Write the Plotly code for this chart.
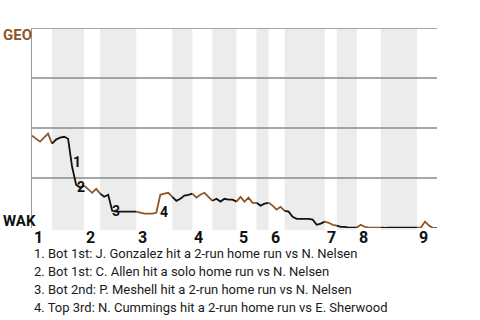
import plotly.graph_objects as go

# GEO win probability (%) after each plate appearance (event 0 = first pitch)
wp_geo = [
    46.2, 44.6, 43.2, 45.2, 47.2, 42.2,                 # top 1st
    44.2, 45.2, 45.6, 44.6, 30.6, 21.6, 20.2, 21.2,     # bot 1st
    19.2, 17.6, 19.6, 17.2,                             # top 2nd
    15.6, 16.6, 8.6, 8.2, 8.2, 8.2, 8.2, 8.2, 8.2,      # bot 2nd
    7.6, 7.2, 7.2, 7.2, 7.6, 16.6, 17.2, 17.6, 15.6,    # top 3rd
    13.6, 14.6, 16.2, 16.6, 17.2,                       # bot 3rd
    15.2, 16.6, 17.6, 15.6, 13.6,                       # top 4th
    14.6, 13.2, 14.6, 14.2, 14.2, 13.2,                 # bot 4th
    15.6, 13.2, 15.2, 12.6, 12.6,                       # top 5th
    11.2, 12.2, 12.6,                                   # bot 5th
    11.2, 9.2, 10.6, 8.6,                               # top 6th
    8.2, 5.6, 4.6, 4.6, 4.6, 4.6, 4.2, 1.6, 2.2, 3.2,   # bot 6th
    2.6, 1.6, 1.2,                                      # top 7th
    0.6, 0.6, 0.2, 0.2, 0.2,                            # bot 7th
    1.6, 0.6, 0.2, 0.2, 0.2, 0.2,                       # top 8th
    0.0, 0.2, 0.2, 0.2, 0.2, 0.2, 0.2, 0.2, 0.2,        # bot 8th
    0.2, 3.2, 1.2, 0.0, 0.0,                            # top 9th
]

# plate appearances in each half inning (top 1st, bot 1st, ...)
half_pa = [5, 8, 4, 9, 9, 5, 5, 6, 5, 3, 4, 10, 3, 5, 6, 9, 5]
inning_labels = ["1", "2", "3", "4", "5", "6", "7", "8", "9"]
grid_levels = [25, 50, 75, 100]

# key plays: label, x position, y position
play_labels = ["1", "2", "3", "4"]
play_x = [11.2, 12.2, 20.9, 32.9]
play_y = [33.2, 20.6, 8.6, 8.2]
play_text = [
    "1. Bot 1st: J. Gonzalez hit a 2-run home run vs N. Nelsen",
    "2. Bot 1st: C. Allen hit a solo home run vs N. Nelsen",
    "3. Bot 2nd: P. Meshell hit a 2-run home run vs N. Nelsen",
    "4. Top 3rd: N. Cummings hit a 2-run home run vs E. Sherwood",
]

BROWN = "#8e5729"
BLACK = "#111111"

# half-inning boundaries
bounds = [0]
for n in half_pa:
    bounds.append(bounds[-1] + n)

fig = go.Figure()
shapes = []
for i in range(len(half_pa)):
    s, e = bounds[i], bounds[i + 1]
    is_bottom = i % 2 == 1
    if is_bottom:
        shapes.append(dict(type="rect", xref="x", yref="paper", x0=s, x1=e,
                           y0=-0.01, y1=1, fillcolor="#ececec",
                           line=dict(width=0), layer="below"))
    xs = list(range(s, e + 1))
    fig.add_trace(go.Scatter(
        x=xs, y=[wp_geo[k] for k in xs], mode="lines",
        line=dict(color=BLACK if is_bottom else BROWN, width=1.8),
        hoverinfo="skip", showlegend=False))

for g in grid_levels:
    shapes.append(dict(type="line", xref="paper", yref="y", x0=0, x1=1, y0=g, y1=g,
                       line=dict(color="#8a8a8a", width=1.3), layer="below"))

annotations = []
# inning numbers at start of each top half
for j, lab in enumerate(inning_labels):
    annotations.append(dict(x=bounds[2 * j], y=-0.047, xref="x", yref="paper",
                            text=lab, showarrow=False, xanchor="left",
                            yanchor="middle", xshift=0,
                            font=dict(family="Roboto", size=16, color="#111111",
                                      weight="bold")))
for lab, px_, py_ in zip(play_labels, play_x, play_y):
    annotations.append(dict(x=px_, y=py_, xref="x", yref="y", text=lab,
                            showarrow=False, xanchor="center", yanchor="middle",
                            font=dict(family="Roboto", size=14, color="#111111",
                                      weight="bold")))
annotations.append(dict(x=-0.076, y=0.966, xref="paper", yref="paper", text="GEO",
                        showarrow=False, xanchor="left", yanchor="middle",
                        font=dict(family="Roboto", size=15, color=BROWN, weight="bold")))
annotations.append(dict(x=-0.076, y=0.036, xref="paper", yref="paper", text="WAK",
                        showarrow=False, xanchor="left", yanchor="middle",
                        font=dict(family="Roboto", size=15, color="#111111", weight="bold")))
for k, t in enumerate(play_text):
    annotations.append(dict(x=0.0, y=-0.128 - 0.09 * k, xref="paper", yref="paper",
                            text=t, showarrow=False, xanchor="left", yanchor="middle",
                            font=dict(family="Roboto", size=13, color="#1a1a1a")))

fig.update_layout(
    width=480, height=320,
    margin=dict(l=32, r=43, t=28, b=92),
    plot_bgcolor="white", paper_bgcolor="white",
    shapes=shapes, annotations=annotations,
    xaxis=dict(range=[0, bounds[-1]], showgrid=False, zeroline=False,
               showticklabels=False, showline=False, fixedrange=True),
    yaxis=dict(range=[0, 100], showgrid=False, zeroline=False,
               showticklabels=False, showline=True, linecolor="#9a9a9a",
               linewidth=1.3, ticks="", fixedrange=True),
)

fig.write_html("out.html")
